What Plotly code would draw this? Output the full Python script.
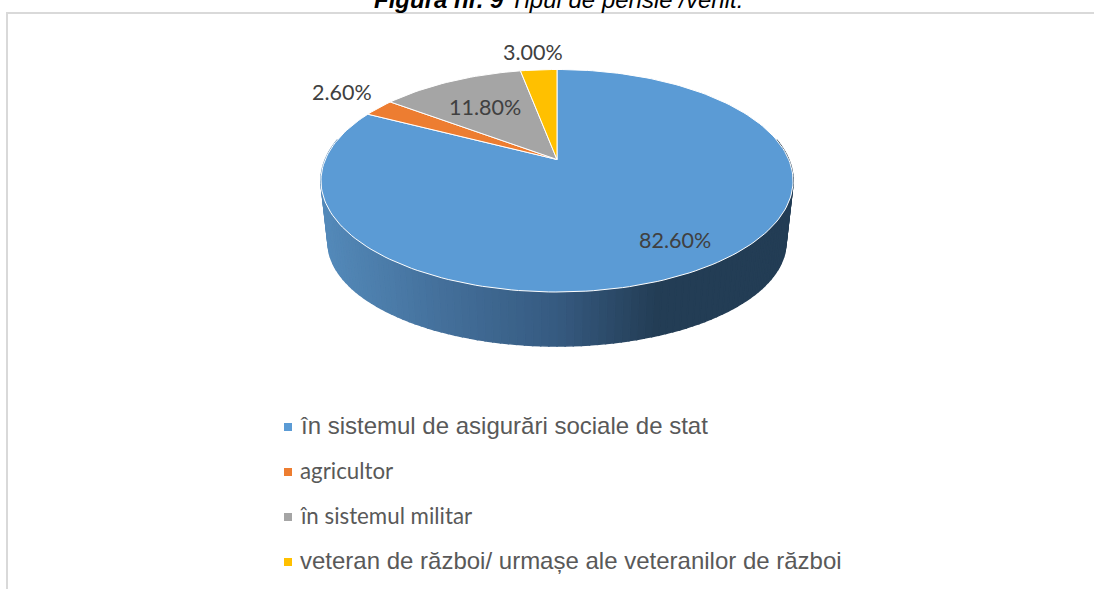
import math
import plotly.graph_objects as go

# ---- data ----
categories = ["în sistemul de asigurări sociale de stat", "agricultor", "în sistemul militar",
              "veteran de război/ urmașe ale veteranilor de război"]
values = [82.6, 2.6, 11.8, 3.0]
colors = ["#5B9BD5", "#ED7D31", "#A5A5A5", "#FFC000"]
title_bold = "Figura nr. 9"
title_rest = " Tipul de pensie /venit."

# ---- page / projection ----
W, H = 1094, 589
CX, CY = 557, 159.5       # pie apex on the page
PX_X, PX_Y = 231.7, 107.2 # pixels per projected unit
PERSP = 0.191
BOT_SCALE_X = 0.97
BOT_SCALE_Y = 100 / 107.2
BOT_DROP = 62.9 / 107.2


def top(theta):
    X, Y = math.sin(theta), math.cos(theta)
    d = 1 + PERSP * Y
    return X / d, Y / d


def bottom(theta):
    X, Y = math.sin(theta), math.cos(theta)
    d = 1 + PERSP * Y
    return BOT_SCALE_X * X / d, BOT_SCALE_Y * Y / d - BOT_DROP


def wall_color(px):
    stops = [(322, (84, 138, 186)), (440, (68, 112, 155)), (557, (54, 90, 128)),
             (655, (35, 61, 85)), (800, (35, 61, 85))]
    for (a, ca), (b, cb) in zip(stops, stops[1:]):
        if px <= b:
            t = max(0, (px - a) / (b - a))
            return "rgb(%d,%d,%d)" % tuple(round(u + (v - u) * t) for u, v in zip(ca, cb))
    return "rgb(35,61,85)"


fig = go.Figure()

# side wall of the first slice (front part of the disc)
n = 120
t0, t1 = math.radians(79), math.radians(281)
for i in range(n):
    a = t0 + (t1 - t0) * i / n
    b = t0 + (t1 - t0) * (i + 1) / n
    pts = [top(a), top(b), bottom(b), bottom(a), top(a)]
    mid = CX + PX_X * (top((a + b) / 2)[0] + bottom((a + b) / 2)[0]) / 2
    c = wall_color(mid)
    fig.add_trace(go.Scatter(x=[p[0] for p in pts], y=[p[1] for p in pts], mode="lines",
                             fill="toself", fillcolor=c, line=dict(color=c, width=1.5),
                             hoverinfo="skip", showlegend=False))

# top face
total = sum(values)
start = 0.0
for name, v, col in zip(categories, values, colors):
    end = start + v / total * 2 * math.pi
    steps = max(4, int((end - start) / math.radians(1.5)))
    pts = [(0.0, 0.0)] + [top(start + (end - start) * k / steps) for k in range(steps + 1)] + [(0.0, 0.0)]
    fig.add_trace(go.Scatter(x=[p[0] for p in pts], y=[p[1] for p in pts], mode="lines",
                             fill="toself", fillcolor=col, line=dict(color="white", width=1),
                             name=name, hoverinfo="name", showlegend=False))
    start = end


def paper(px, py):
    return px / W, 1 - py / H


annotations = []
label_pos = [(675, 240), (342, 92), (485, 107), (533, 52)]
for v, (px, py) in zip(values, label_pos):
    x, y = paper(px, py)
    annotations.append(dict(text=f"{v:.2f}%", x=x, y=y, xref="paper", yref="paper", showarrow=False,
                            xanchor="center", yanchor="middle",
                            font=dict(family="Lato", size=21.5, color="#404040")))

# legend
legend_y = [427, 472, 517, 562]
legend_font = [("Liberation Sans", 24), ("Lato", 22.3), ("Lato", 22.3), ("Liberation Sans", 24)]
for name, col, py, (fam, sz) in zip(categories, colors, legend_y, legend_font):
    fig.add_shape(type="rect", xref="paper", yref="paper", x0=284 / W, x1=292 / W,
                  y0=1 - (py + 4) / H, y1=1 - (py - 4) / H, fillcolor=col, line_width=0)
    tx, ty = paper(298, py - 2)
    annotations.append(dict(text=name, x=tx, y=ty, xref="paper", yref="paper", showarrow=False,
                            xanchor="left", yanchor="middle",
                            font=dict(family=fam, size=sz, color="#595959")))

# caption, cut by the top edge of the page as in the reference
tx, ty = paper(558, -1)
annotations.append(dict(text=f"<b><i>{title_bold}</i></b><i>{title_rest}</i>", x=tx, y=ty,
                        xref="paper", yref="paper", showarrow=False, xanchor="center", yanchor="middle",
                        font=dict(family="Liberation Sans", size=24, color="#000000")))

# frame
frame = dict(color="#D9D9D9", width=2)
fig.add_shape(type="line", xref="paper", yref="paper", x0=7 / W, x1=1, y0=1 - 13 / H, y1=1 - 13 / H, line=frame)
fig.add_shape(type="line", xref="paper", yref="paper", x0=7 / W, x1=7 / W, y0=1 - 12 / H, y1=0, line=frame)

fig.update_layout(
    width=W, height=H, margin=dict(l=0, r=0, t=0, b=0), paper_bgcolor="white", plot_bgcolor="white",
    xaxis=dict(visible=False, range=[-CX / PX_X, (W - CX) / PX_X], fixedrange=True),
    yaxis=dict(visible=False, range=[(CY - H) / PX_Y, CY / PX_Y], fixedrange=True),
    annotations=annotations,
)
fig.write_html("out.html", config=dict(displayModeBar=False),
               post_script="document.body.style.margin='0';document.body.style.overflow='hidden';")
